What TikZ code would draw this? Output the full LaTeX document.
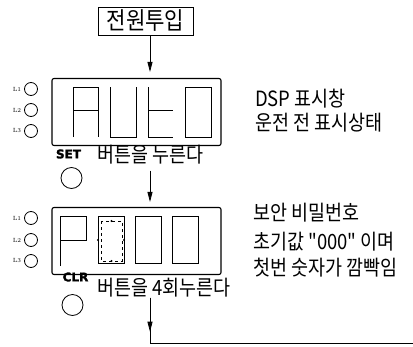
\documentclass[tikz,border=0pt]{standalone}
\usepackage{fontspec}
\newfontfamily\kr[FakeStretch=0.88]{Noto Sans CJK KR}
\newfontfamily\tagfont[FakeBold=2]{DejaVu Sans}
\usetikzlibrary{arrows.meta}

\tikzset{
  seg/.style={line width=0.9pt},
  panel/.style={draw, line width=1.1pt, rounded corners=2pt, minimum width=169pt, minimum height=67pt, inner sep=0pt},
  led/.style={draw, circle, line width=0.8pt, minimum size=13pt, inner sep=0pt},
  btn/.style={draw, circle, line width=0.8pt, minimum size=21pt, inner sep=0pt},
  flow/.style={-{Triangle[length=10pt,width=5pt]}, line width=0.8pt},
  txt/.style={font=\kr\fontsize{21}{24}\selectfont, inner sep=0pt, anchor=west},
  tag/.style={font=\tagfont\bfseries\fontsize{12}{12}\selectfont, inner sep=0pt},
  ledtag/.style={font=\rmfamily\fontsize{6}{6}\selectfont, inner sep=0pt},
}

\begin{document}
\begin{tikzpicture}[x=1pt, y=-1pt]
\useasboundingbox (0,0) rectangle (413,346);

\coordinate (axis) at (150,0);
\coordinate (out) at (413,343);

% power on
\node[draw, line width=0.8pt, font=\kr\fontsize{24}{26}\selectfont, minimum width=95pt, minimum height=28pt, inner sep=2pt] (power) at (145.5,21) {전원투입};

% first display
\node[panel] (dsp1) at (136.5,112) {};
\draw[seg] (73,137) -- (73,87) -- (98,87) -- (98,137) (73,110) -- (98,110);
\draw[seg] (110,87) -- (110,137) -- (136,137) -- (136,87);
\draw[seg] (148,87) -- (148,137) -- (173,137) (148,110) -- (173,110);
\draw[seg] (185,87) rectangle (211,137);
\foreach \i/\y in {1/89, 2/110, 3/131} {
  \node[led] (ledA\i) at (31,\y) {};
  \node[ledtag] at (17,\y) {L\i};
}
\node[tag] (set) at (68.5,154) {SET};
\node[btn] (setbtn) at (71.5,178) {};
\node[txt] (press1) at (97,155) {버튼을 누른다};

\node[txt] (info1) at (255,99) {DSP 표시창};
\node[txt] (info2) at (255,123) {운전 전 표시상태};

% second display
\node[panel] (dsp2) at (136.5,241) {};
\draw[seg] (60,266) -- (60,216) -- (86,216) -- (86,240) -- (60,240);
\draw[seg] (98,216) rectangle (124,263);
\draw[seg] (135,216) rectangle (161,263);
\draw[seg] (172,216) rectangle (198,263);
\draw[seg, dashed] (101,221) rectangle (122,261);
\foreach \p in {(111.5,221), (111.5,261), (98,240), (124,240)}
  \fill \p circle (1.2pt);
\foreach \i/\y in {1/218, 2/240, 3/261} {
  \node[led] (ledB\i) at (31,\y) {};
  \node[ledtag] at (17,\y) {L\i};
}
\node[tag] (clr) at (75.5,277) {CLR};
\node[btn] (clrbtn) at (72.5,305) {};
\node[txt] (press2) at (97,288) {버튼을 4회누른다};

\node[txt] (info3) at (253,213) {보안 비밀번호};
\node[txt] (info4) at (253,242) {초기값 "000" 이며};
\node[txt] (info5) at (253,268) {첫번 숫자가 깜빡임};

% flow
\draw[flow, shorten >=6pt] (power.south -| axis) -- (dsp1.north -| axis);
\draw[flow, shorten <=6pt, shorten >=5pt] (press1.south -| axis) -- (dsp2.north -| axis);
\draw[flow] (press2.south -| axis) -- ++(0,34);
\draw[line width=0.8pt] (press2.south -| axis) -- (out -| axis) -- (out);
\end{tikzpicture}
\end{document}
